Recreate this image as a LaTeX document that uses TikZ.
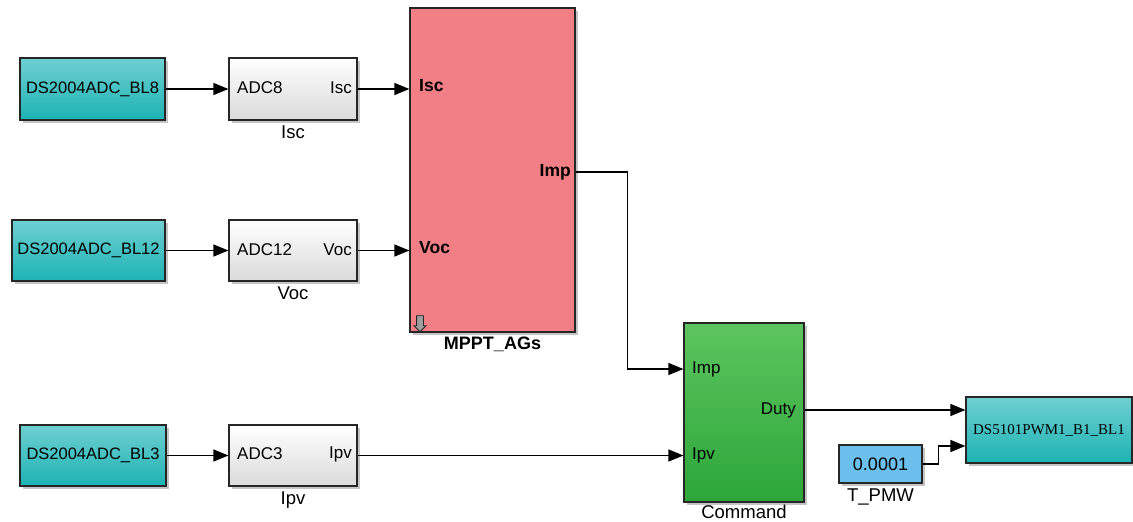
\documentclass[tikz,border=0pt]{standalone}
\usepackage{fontspec}
\setmainfont{Liberation Sans}
\newfontfamily\timesblk{Liberation Serif}
\usetikzlibrary{arrows.meta,calc,shadows,shapes.arrows}
\definecolor{dsteal}{HTML}{1DB3B4}
\definecolor{dstealtop}{HTML}{6FCFD1}
\definecolor{adcgray}{HTML}{DADADA}
\definecolor{mpptred}{HTML}{F27E86}
\definecolor{cmdtop}{HTML}{5DC55F}
\definecolor{cmdbot}{HTML}{2CA63A}
\definecolor{constblue}{HTML}{6CBFEC}
\tikzset{
  blk/.style={draw=black!85, line width=1.2pt, inner sep=0pt,
    drop shadow={shadow xshift=2.5pt, shadow yshift=-2.5pt, fill=black!45}},
  dsio/.style={blk, top color=dstealtop, bottom color=dsteal,
    font=\fontsize{16.5}{18}\selectfont},
  adc/.style={blk, top color=white, bottom color=adcgray},
  mask/.style={blk, fill=mpptred},
  cmdblk/.style={blk, top color=cmdtop, bottom color=cmdbot},
  constblk/.style={blk, fill=constblue, font=\fontsize{18}{20}\selectfont},
  port/.style={inner sep=0pt, font=\fontsize{17}{19}\selectfont},
  bport/.style={inner sep=0pt, font=\bfseries\fontsize{17.5}{19}\selectfont},
  lab/.style={inner sep=0pt, yshift=-5pt, font=\fontsize{18.5}{20}\selectfont},
  blab/.style={inner sep=0pt, yshift=-4pt, font=\bfseries\fontsize{18}{20}\selectfont},
  sig/.style={-{Triangle[length=15pt,width=12pt]}, line width=1.3pt}
}

\begin{document}
\begin{tikzpicture}[x=1pt,y=-1pt]
\useasboundingbox (0,0) rectangle (1133,522);

% Analog inputs
\node[dsio, minimum width=145pt, minimum height=62pt] (bl8) at (92.5,89) {DS2004ADC\_BL8};
\node[dsio, minimum width=153pt, minimum height=61pt] (bl12) at (88.5,250.5) {DS2004ADC\_BL12};
\node[dsio, minimum width=146pt, minimum height=61pt] (bl3) at (93,455.5) {DS2004ADC\_BL3};

% ADC conversion blocks
\node[adc, minimum width=128pt, minimum height=62pt,
  label={[lab]below:Isc}] (adc8) at (293,89) {};
\node[adc, minimum width=128pt, minimum height=61pt,
  label={[lab]below:Voc}] (adc12) at (293,250.5) {};
\node[adc, minimum width=128pt, minimum height=61pt,
  label={[lab]below:Ipv}] (adc3) at (293,455.5) {};
\node[port, anchor=west] (adc8in) at (237,88) {ADC8};
\node[port, anchor=east] (adc8out) at (352,88) {Isc};
\node[port, anchor=west] (adc12in) at (237,250) {ADC12};
\node[port, anchor=east] (adc12out) at (352,250) {Voc};
\node[port, anchor=west] (adc3in) at (237,454) {ADC3};
\node[port, anchor=east] (adc3out) at (352,454) {Ipv};

% MPPT subsystem
\node[mask, minimum width=165pt, minimum height=324pt,
  label={[blab]below:MPPT\_AGs}] (mppt) at (492.5,170) {};
\node[bport, anchor=west] (mpIsc) at (419,86) {Isc};
\node[bport, anchor=west] (mpVoc) at (419,248) {Voc};
\node[bport, anchor=east] (mpImp) at (571,172) {Imp};
\node[single arrow, draw=gray!30!black, fill=gray!75, rotate=-90, inner sep=3pt,
  line width=0.8pt, minimum height=16pt, minimum width=11pt,
  single arrow head extend=2.5pt] (lookin) at (420,322) {};

% Command subsystem
\node[cmdblk, minimum width=120pt, minimum height=179pt,
  label={[lab, yshift=3pt]below:Command}] (cmd) at (744,412.5) {};
\node[port, anchor=west] (cmdImp) at (692,369) {Imp};
\node[port, anchor=west] (cmdIpv) at (692,455) {Ipv};
\node[port, anchor=east] (cmdDuty) at (796,410) {Duty};

% PWM output and period
\node[blk, top color=dstealtop, bottom color=dsteal, minimum width=166pt, minimum height=66pt,
  font=\timesblk\fontsize{15}{17}\selectfont] (pwm) at (1049,430) {DS5101PWM1\_B1\_BL1};
\node[constblk, minimum width=83pt, minimum height=38pt,
  label={[lab]below:T\_PMW}] (tpwm) at (880.5,464) {0.0001};

% Signals
\draw[sig] (bl8) -- (adc8);
\draw[sig] (bl12) -- (adc12);
\draw[sig] (bl3) -- (adc3);
\draw[sig] (adc8.east) -- (adc8.east -| mppt.west);
\draw[sig] (adc12.east) -- (adc12.east -| mppt.west);
\draw[sig] (adc3.east) -- (adc3.east -| cmd.west);
\draw[sig] (mppt.east |- mpImp) -- ++(52,0) |- (cmd.west |- cmdImp);
\draw[sig] (cmd.east |- cmdDuty) -- (pwm.west |- cmdDuty);
\draw[sig] (tpwm.east) -- ++(16,0) |- ($(pwm.west)+(0,16)$);

\end{tikzpicture}
\end{document}
